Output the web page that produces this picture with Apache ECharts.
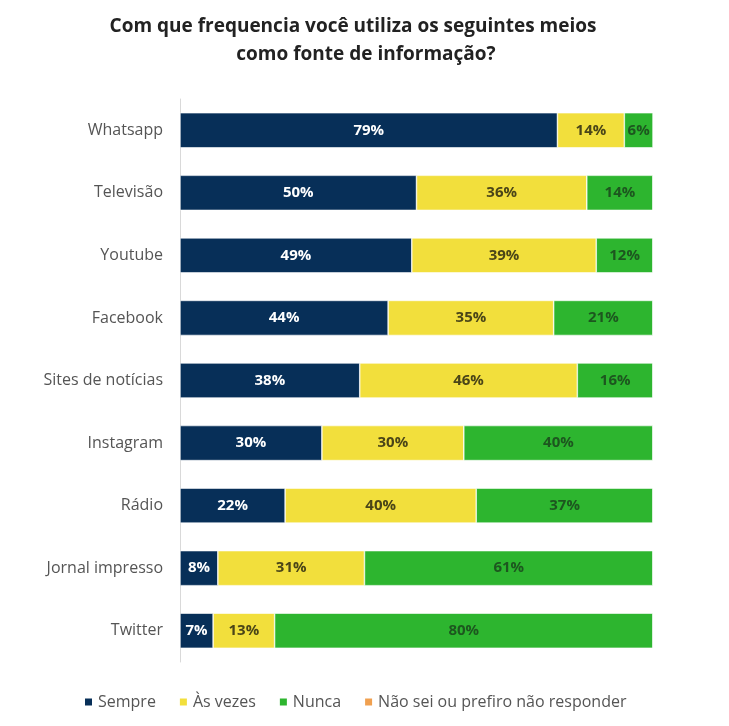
<!DOCTYPE html>
<html><head><meta charset="utf-8">
<script src="https://cdn.jsdelivr.net/npm/echarts@6/dist/echarts.min.js"></script>
<style>html,body{margin:0;padding:0;background:#fff}#c{width:729px;height:726px}</style>
</head><body><div id="c"></div>
<script>
const categories = ["Whatsapp","Televisão","Youtube","Facebook","Sites de notícias","Instagram","Rádio","Jornal impresso","Twitter"];
const sempre = [79,50,49,44,38,30,22,8,7];
const asVezes = [14,36,39,35,46,30,40,31,13];
const nunca = [6,14,12,21,16,40,37,61,80];
const naoSei = [0,0,0,0,0,0,0,0,0];
const seriesNames = ["Sempre","Às vezes","Nunca","Não sei ou prefiro não responder"];
const titleLines = ["Com que frequencia você utiliza os seguintes meios","como fonte de informação?"];
const colors = ["#072f58","#f2df3c","#2db52f","#f0a050"];
const labelColors = ["#ffffff","#4a4518","#1d561f","#ffffff"];

const raw = [sempre, asVezes, nunca, naoSei];
const sums = categories.map((c,i)=>raw.reduce((s,a)=>s+a[i],0));
const font = "'Open Sans', 'Liberation Sans', sans-serif";
const titleStyle = {fontFamily:font,fontSize:19,fontWeight:'bold',color:'#222'};

const chart = echarts.init(document.getElementById('c'), null, {renderer:'canvas'});
chart.setOption({
  backgroundColor:'#ffffff',
  animation:false,
  title:[
    {text:titleLines[0], left:353, top:17, padding:0, textAlign:'center', textStyle:titleStyle},
    {text:titleLines[1], left:366, top:45, padding:0, textAlign:'center', textStyle:titleStyle}
  ],
  legend:{
    bottom:11, left:78, itemWidth:9, itemHeight:9, itemGap:22, icon:'rect',
    textStyle:{fontFamily:font,fontSize:16,color:'#555'},
    data:seriesNames
  },
  grid:{left:180,right:76,top:99,bottom:64,containLabel:false},
  xAxis:{type:'value',min:0,max:100,show:false},
  yAxis:{type:'category',inverse:true,data:categories,
    axisLine:{show:true,lineStyle:{color:'#d9d9d9',width:1}},
    axisTick:{show:false},
    axisLabel:{fontFamily:font,fontSize:16,color:'#555',margin:17}
  },
  series: raw.map((arr,k)=>({
    name:seriesNames[k], type:'bar', stack:'t', barCategoryGap:'44%',
    itemStyle:{color:colors[k], borderColor:'#ffffff', borderWidth:0.6},
    data: arr.map((v,i)=>({value: v/sums[i]*100, orig:v})),
    label:{show:k<3, position:'inside', fontFamily:font, fontSize:15, fontWeight:'bold',
      color:labelColors[k],
      formatter:p=> p.data.orig>0 ? p.data.orig+'%' : ''}
  }))
});
</script></body></html>
